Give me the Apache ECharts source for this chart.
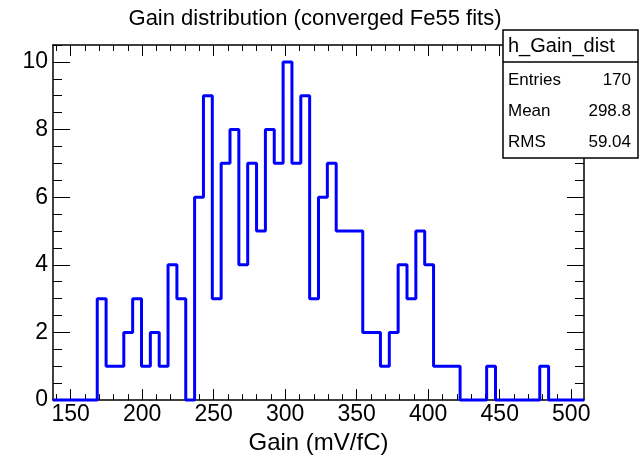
<!DOCTYPE html>
<html>
<head>
<meta charset="utf-8">
<script src="https://cdn.jsdelivr.net/npm/echarts@6/dist/echarts.min.js"></script>
<style>
  html, body { margin: 0; padding: 0; background: #fff; }
  #main { width: 640px; height: 460px; }
</style>
</head>
<body>
<div id="main"></div>
<script>
	// histogram range and bin contents (60 bins)
	var xMin = 137.7, xMax = 508.9;
	var counts = [0, 0, 0, 0, 0, 3, 1, 1, 2, 3,
		1, 2, 1, 4, 3, 0, 6, 9, 3, 7,
		8, 4, 7, 5, 8, 7, 10, 7, 9, 3,
		6, 7, 5, 5, 5, 2, 2, 1, 2, 4,
		3, 5, 4, 1, 1, 1, 0, 0, 0, 1,
		0, 0, 0, 0, 0, 1, 0, 0, 0, 0];
	var xMajor = [150, 200, 250, 300, 350, 400, 450, 500];
	var xMinor = [140, 150, 160, 170, 180, 190, 200, 210, 220, 230, 240, 250, 260, 270, 280, 290, 300,
		310, 320, 330, 340, 350, 360, 370, 380, 390, 400, 410, 420, 430, 440, 450, 460, 470, 480, 490, 500];
	var yMajor = [0, 2, 4, 6, 8, 10];
	var yMinor = [0, 0.5, 1, 1.5, 2, 2.5, 3, 3.5, 4, 4.5, 5, 5.5, 6, 6.5, 7, 7.5, 8, 8.5, 9, 9.5, 10, 10.5];
	var statNames = ['Entries', 'Mean', 'RMS'];
	var statValues = ['170', '298.8', '59.04'];

	var font = 'Liberation Sans, Arial, sans-serif';
	var binW = (xMax - xMin) / counts.length;
	var histData = [];
	for (var i = 0; i < counts.length; i++) {
		histData.push([xMin + i * binW, counts[i]]);
	}
	histData.push([xMax, counts[counts.length - 1]]);

	function xAx(pos, ticks, len, labels, line) {
		return {
			type: 'value', position: pos, min: xMin, max: xMax,
			axisLine: { show: line, onZero: false, lineStyle: { color: '#000', width: 1.5 } },
			axisTick: { show: true, inside: true, length: len, customValues: ticks, lineStyle: { color: '#000', width: 1 } },
			axisLabel: labels ? { show: true, customValues: xMajor, margin: 3, fontSize: 23, fontFamily: font, color: '#000' } : { show: false },
			splitLine: { show: false }
		};
	}
	function yAx(pos, ticks, len, labels, line) {
		return {
			type: 'value', position: pos, min: 0, max: 10.5,
			axisLine: { show: line, onZero: false, lineStyle: { color: '#000', width: 1.5 } },
			axisTick: { show: true, inside: true, length: len, customValues: ticks, lineStyle: { color: '#000', width: 1 } },
			axisLabel: labels ? { show: true, customValues: yMajor, margin: 5, fontSize: 23, fontFamily: font, color: '#000' } : { show: false },
			splitLine: { show: false }
		};
	}

	var xAxes = [xAx('bottom', xMajor, 11, true, true), xAx('bottom', xMinor, 6, false, false),
		xAx('top', xMajor, 11, false, true), xAx('top', xMinor, 6, false, false)];
	xAxes[0].name = 'Gain (mV/fC)';
	xAxes[0].nameLocation = 'middle';
	xAxes[0].nameGap = 26;
	xAxes[0].nameTextStyle = { fontSize: 24, fontFamily: font, color: '#000' };

	var yAxes = [yAx('left', yMajor, 17, true, true), yAx('left', yMinor, 9, false, false),
		yAx('right', yMajor, 17, false, true), yAx('right', yMinor, 9, false, false)];

	// stats box
	var graphics = [
		{ type: 'rect', z: 100, shape: { x: 503, y: 30, width: 135, height: 128 },
			style: { fill: '#fff', stroke: '#000', lineWidth: 1.5 } },
		{ type: 'line', z: 101, shape: { x1: 503, y1: 62, x2: 638, y2: 62 },
			style: { stroke: '#000', lineWidth: 1.5 } },
		{ type: 'text', z: 101, x: 508, y: 46,
			style: { text: 'h_Gain_dist', fill: '#000', font: '20px ' + font, textAlign: 'left', textVerticalAlign: 'middle' } }
	];
	var rowY = [80, 111, 142];
	for (var k = 0; k < statNames.length; k++) {
		graphics.push({ type: 'text', z: 101, x: 508, y: rowY[k],
			style: { text: statNames[k], fill: '#000', font: '17px ' + font, textAlign: 'left', textVerticalAlign: 'middle' } });
		graphics.push({ type: 'text', z: 101, x: 631, y: rowY[k],
			style: { text: statValues[k], fill: '#000', font: '17px ' + font, textAlign: 'right', textVerticalAlign: 'middle' } });
	}

	var myChart = echarts.init(document.getElementById('main'));
	var option = {
		animation: false,
		backgroundColor: '#fff',
		title: {
			text: 'Gain distribution (converged Fe55 fits)',
			left: 310, top: 3, textAlign: 'center',
			textStyle: { fontSize: 22, fontWeight: 'normal', fontFamily: font, color: '#000' }
		},
		grid: { left: 53, right: 56, top: 45, bottom: 54 },
		xAxis: xAxes,
		yAxis: yAxes,
		series: [{
			type: 'line',
			data: histData,
			step: 'end',
			symbol: 'none',
			clip: false,
			lineStyle: { color: '#0000ff', width: 3 }
		}],
		graphic: graphics
	};
	myChart.setOption(option);
</script>
</body>
</html>
